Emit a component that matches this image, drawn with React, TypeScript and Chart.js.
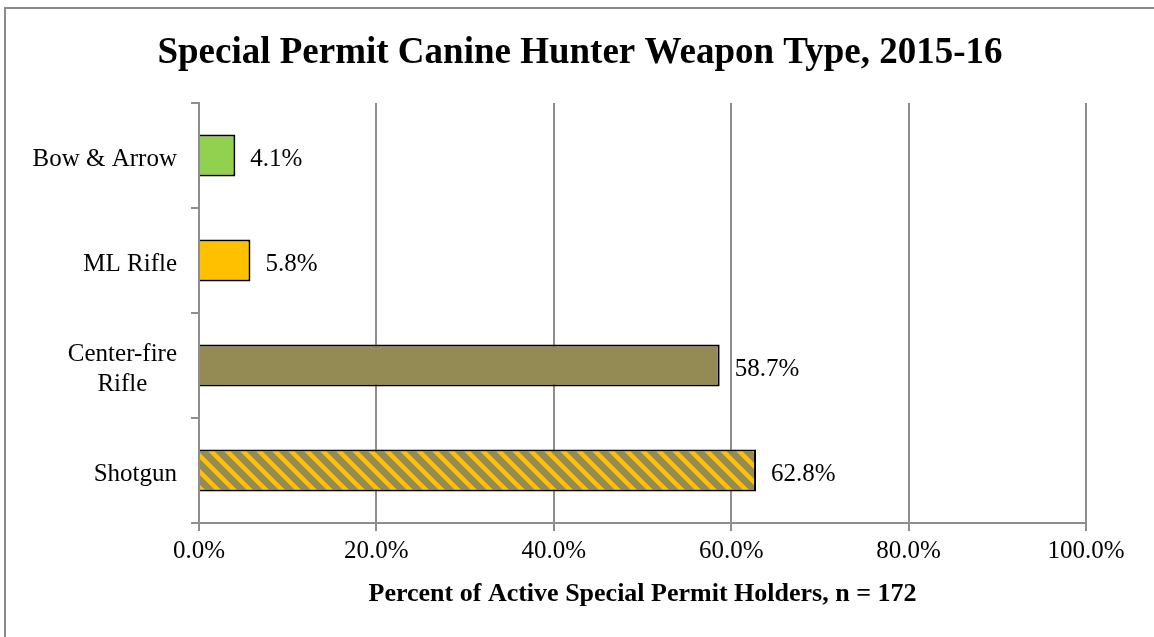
import React, { useEffect, useRef } from 'react';
import { Chart, registerables } from 'chart.js';

Chart.register(...registerables);

const categories: (string | string[])[] = ['Bow & Arrow', 'ML Rifle', ['Center-fire', 'Rifle'], 'Shotgun'];
const values: number[] = [4.1, 5.8, 58.7, 62.8];
const xTickValues: number[] = [0, 20, 40, 60, 80, 100];
const titleText = 'Special Permit Canine Hunter Weapon Type, 2015-16';
const xAxisTitle = 'Percent of Active Special Permit Holders, n = 172';

const FONT = "'Liberation Serif', 'Times New Roman', serif";
const AXIS_GREY = '#8E8E8E';

export default function App() {
  const canvasRef = useRef<HTMLCanvasElement | null>(null);

  useEffect(() => {
    const canvas = canvasRef.current;
    if (!canvas) return;

    // striped pattern for Shotgun bar
    const pc = document.createElement('canvas');
    pc.width = 16;
    pc.height = 16;
    const pctx = pc.getContext('2d')!;
    pctx.fillStyle = '#948A54';
    pctx.fillRect(0, 0, 16, 16);
    pctx.strokeStyle = '#FFC000';
    pctx.lineWidth = 4.5;
    for (const k of [-16, 0, 16]) {
      pctx.beginPath();
      pctx.moveTo(k - 2, -2);
      pctx.lineTo(k + 18, 18);
      pctx.stroke();
    }
    const pattern = canvas.getContext('2d')!.createPattern(pc, 'repeat');

    const colors = ['#92D050', '#FFC000', '#948A54', pattern];

    const labelPlugin = {
      id: 'customLabels',
      afterDatasetsDraw(chart: any) {
        // redraw the value axis line over the bars' starts
        const ctx = chart.ctx;
        const yScale = chart.scales.y;
        const xPix = Math.round(yScale.right);
        ctx.save();
        ctx.strokeStyle = AXIS_GREY;
        ctx.lineWidth = 2;
        ctx.beginPath();
        ctx.moveTo(xPix, chart.chartArea.top);
        ctx.lineTo(xPix, chart.chartArea.bottom);
        ctx.stroke();
        ctx.restore();
      },
      afterDraw(chart: any) {
        const ctx = chart.ctx;
        const meta = chart.getDatasetMeta(0);
        ctx.save();
        ctx.font = `25px ${FONT}`;
        ctx.fillStyle = '#000';
        ctx.textBaseline = 'middle';
        ctx.textAlign = 'left';
        meta.data.forEach((bar: any, i: number) => {
          ctx.fillText(values[i].toFixed(1) + '%', bar.x + 15, bar.y + 4);
        });
        const yScale = chart.scales.y;
        categories.forEach((lab, i) => {
          const lines = Array.isArray(lab) ? lab : [lab];
          const w = Math.max(...lines.map((l) => ctx.measureText(l).width));
          const cx = yScale.right - 8 - 14 - w / 2;
          const cy = yScale.getPixelForValue(i);
          const lh = 30;
          ctx.textAlign = 'center';
          lines.forEach((l, j) => {
            ctx.fillText(l, cx, cy + 4 + (j - (lines.length - 1) / 2) * lh);
          });
        });
        ctx.restore();
      },
    };

    const chart = new Chart(canvas, {
      type: 'bar',
      data: {
        labels: categories,
        datasets: [
          {
            data: values,
            backgroundColor: colors as any,
            borderColor: '#000000',
            borderWidth: 2,
            borderSkipped: 'start',
            barPercentage: 0.4,
            categoryPercentage: 1.0,
          },
        ],
      },
      options: {
        indexAxis: 'y',
        responsive: false,
        animation: false,
        devicePixelRatio: 1,
        layout: { padding: { left: 74, right: 68, top: 0, bottom: 0 } },
        plugins: {
          legend: { display: false },
          tooltip: { enabled: false },
          title: {
            display: true,
            text: titleText,
            color: '#000',
            font: { family: FONT, size: 37, weight: 'bold' },
            padding: { top: 30.8, bottom: 27.8 },
          },
        },
        scales: {
          x: {
            type: 'linear',
            min: 0,
            max: 100,
            afterBuildTicks: (s: any) => {
              s.ticks = xTickValues.map((v) => ({ value: v }));
            },
            afterFit: (s: any) => {
              s.height = 114;
            },
            ticks: {
              color: '#000',
              font: { family: FONT, size: 25 },
              padding: 5,
              maxRotation: 0,
              callback: (v: any) => Number(v).toFixed(1) + '%',
            },
            grid: { color: AXIS_GREY, lineWidth: 2, tickLength: 8, drawTicks: true },
            border: { display: true, color: AXIS_GREY, width: 2 },
            title: {
              display: true,
              text: xAxisTitle,
              color: '#000',
              font: { family: FONT, size: 26, weight: 'bold' },
              padding: { top: 12.4, bottom: 27.4 },
            },
          },
          y: {
            type: 'category',
            grid: {
              display: true,
              drawOnChartArea: false,
              drawTicks: true,
              tickLength: 8,
              color: AXIS_GREY,
              lineWidth: 2,
            },
            border: { display: true, color: AXIS_GREY, width: 2 },
            ticks: {
              color: 'rgba(0,0,0,0)',
              font: { family: FONT, size: 25 },
              padding: 14,
            },
            afterFit: (s: any) => {
              s.width = 125;
            },
          },
        },
      },
      plugins: [labelPlugin],
    });

    return () => {
      chart.destroy();
    };
  }, []);

  return (
    <>
      <canvas
        ref={canvasRef}
        width={1154}
        height={637}
        style={{ position: 'fixed', left: 0, top: 0, width: 1154, height: 637, background: '#fff' }}
      />
      <div
        style={{
          position: 'fixed',
          left: 4,
          top: 7,
          width: 1200,
          height: 700,
          borderLeft: '2px solid #8A8A8A',
          borderTop: '2px solid #8A8A8A',
          pointerEvents: 'none',
        }}
      />
    </>
  );
}
